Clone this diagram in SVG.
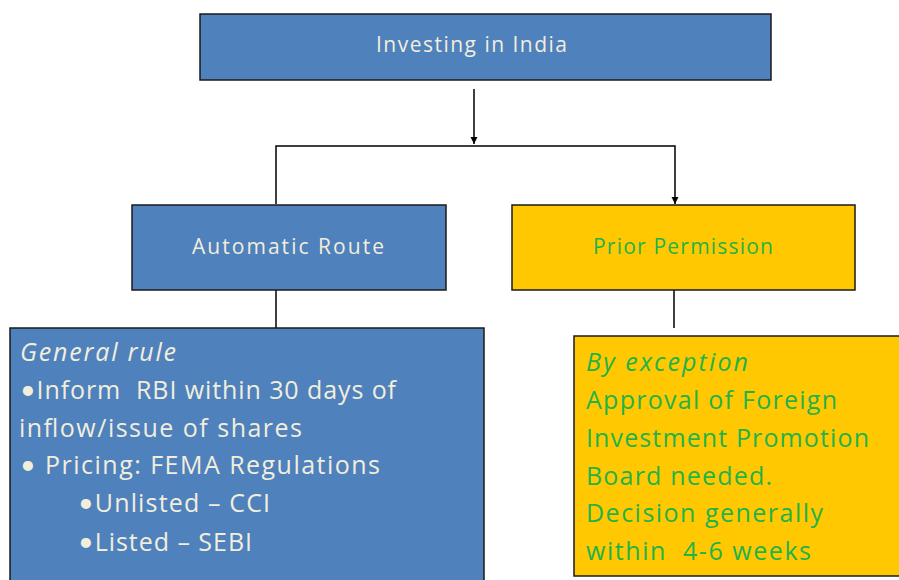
<svg xmlns="http://www.w3.org/2000/svg" width="899" height="580" viewBox="0 0 899 580">
<defs>
<style>
.blue{fill:#4f81bd;stroke:#1a1a1a;stroke-width:1.5}
.yel{fill:#ffc800;stroke:#1a1a1a;stroke-width:1.5}
.wt{fill:#f2eedc;font-family:"Open Sans","Noto Sans",sans-serif}
.gt{fill:#1fb34a;font-family:"Open Sans","Noto Sans",sans-serif}
.hd{font-size:21px}
.bd{font-size:25px}
.it{font-style:italic}
.bu{font-family:Lato,"Liberation Sans",sans-serif;font-size:27px}
.ln{stroke:#000;stroke-width:1.5;fill:none}
</style>
<marker id="ah" markerWidth="8" markerHeight="8" refX="7" refY="4" orient="auto" markerUnits="userSpaceOnUse">
<path d="M0,0.5 L7,4 L0,7.5 z" fill="#000"/>
</marker>
</defs>
<rect width="899" height="580" fill="#fff"/>
<g id="connectors">
<line class="ln" x1="474" y1="89" x2="474" y2="144" marker-end="url(#ah)"/>
<polyline class="ln" points="276,204 276,146 675,146 675,204" marker-end="url(#ah)"/>
<path class="ln" d="M276,290 V328"/>
<path class="ln" d="M674,290 V328"/>
</g>
<g id="investing">
<rect class="blue" x="200" y="14" width="571" height="66"/>
<text class="wt hd" x="376" y="52" textLength="191" lengthAdjust="spacing">Investing in India</text>
</g>
<g id="automatic">
<rect class="blue" x="132" y="205" width="314" height="85"/>
<text class="wt hd" x="192" y="254" textLength="192" lengthAdjust="spacing">Automatic Route</text>
</g>
<g id="prior">
<rect class="yel" x="512" y="205" width="343" height="85"/>
<text class="gt hd" x="593" y="254" textLength="180" lengthAdjust="spacing">Prior Permission</text>
</g>
<g id="general">
<rect class="blue" x="10" y="328" width="474" height="260"/>
<text class="wt bd it" x="20" y="361" textLength="156" lengthAdjust="spacing">General rule</text>
<text class="wt bd" x="20" y="399" textLength="376" lengthAdjust="spacing" xml:space="preserve"><tspan class="bu">•</tspan>Inform  RBI within 30 days of</text>
<text class="wt bd" x="19" y="437" textLength="283" lengthAdjust="spacing">inflow/issue of shares</text>
<text class="wt bd" x="20" y="474" textLength="360" lengthAdjust="spacing"><tspan class="bu">•</tspan> Pricing: FEMA Regulations</text>
<text class="wt bd" x="78" y="512" textLength="192" lengthAdjust="spacing"><tspan class="bu">•</tspan>Unlisted – CCI</text>
<text class="wt bd" x="78" y="551" textLength="174" lengthAdjust="spacing"><tspan class="bu">•</tspan>Listed – SEBI</text>
</g>
<g id="exception">
<rect class="yel" x="574" y="336" width="340" height="240"/>
<text class="gt bd it" x="586" y="371" textLength="162" lengthAdjust="spacing">By exception</text>
<text class="gt bd" x="586" y="409" textLength="251" lengthAdjust="spacing">Approval of Foreign</text>
<text class="gt bd" x="586" y="447" textLength="283" lengthAdjust="spacing">Investment Promotion</text>
<text class="gt bd" x="586" y="485" textLength="186" lengthAdjust="spacing">Board needed.</text>
<text class="gt bd" x="586" y="522" textLength="237" lengthAdjust="spacing">Decision generally</text>
<text class="gt bd" x="586" y="560" textLength="225" lengthAdjust="spacing" xml:space="preserve">within  4-6 weeks</text>
</g>
</svg>
